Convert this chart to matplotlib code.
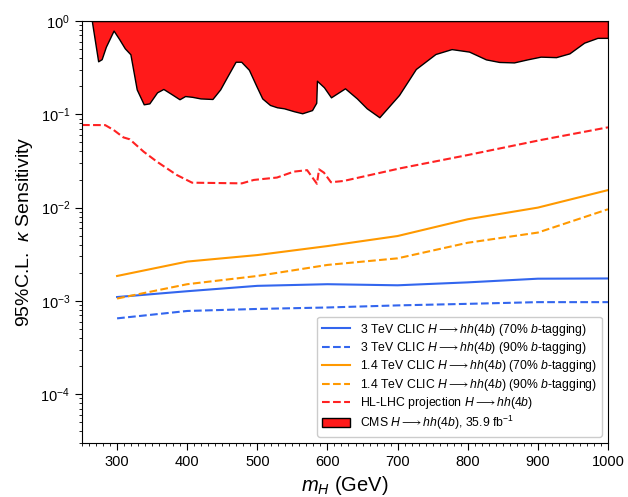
import matplotlib
matplotlib.use('Agg')
import matplotlib.pyplot as plt
import numpy as np
from matplotlib.ticker import MultipleLocator, LogLocator, NullFormatter

plt.rcParams['font.family'] = ['Liberation Sans', 'DejaVu Sans']
plt.rcParams['mathtext.fontset'] = 'custom'
plt.rcParams['mathtext.rm'] = 'Liberation Sans'
plt.rcParams['mathtext.it'] = 'Liberation Sans:italic'

# CLIC projections (mH in GeV)
mh_clic = [300, 400, 500, 600, 700, 800, 900, 1000]
clic3_70 = [1.10e-3, 1.27e-3, 1.45e-3, 1.51e-3, 1.47e-3, 1.58e-3, 1.73e-3, 1.74e-3]
clic3_90 = [6.5e-4, 7.8e-4, 8.2e-4, 8.5e-4, 8.95e-4, 9.3e-4, 9.7e-4, 9.7e-4]
clic14_70 = [1.85e-3, 2.64e-3, 3.1e-3, 3.87e-3, 4.96e-3, 7.5e-3, 1.0e-2, 1.54e-2]
clic14_90 = [1.06e-3, 1.51e-3, 1.85e-3, 2.43e-3, 2.86e-3, 4.2e-3, 5.4e-3, 9.6e-3]

# HL-LHC projection
mh_hllhc = [250, 283, 295, 309, 318, 338, 357, 385, 407, 478, 495, 528, 552, 571,
            585, 588, 595, 605, 623, 704, 800, 904, 1000]
hllhc = [0.0768, 0.0766, 0.068, 0.0566, 0.054, 0.0397, 0.031, 0.0224, 0.0185, 0.0182,
         0.0198, 0.021, 0.0243, 0.0252, 0.018, 0.0257, 0.0237, 0.0187, 0.0193, 0.0264,
         0.0366, 0.053, 0.0725]

# CMS 35.9 fb-1 exclusion
mh_cms = [264, 273, 278, 284, 295, 303, 311, 319, 328, 338, 346, 357, 366, 378, 389,
          397, 407, 419, 436, 447, 457, 469, 477, 488, 499, 507, 518, 528, 538, 552,
          564, 578, 584, 585, 595, 605, 625, 642, 656, 674, 702, 726, 754, 777, 802,
          826, 845, 866, 885, 904, 926, 945, 966, 985, 1000]
cms = [1.0, 0.37, 0.39, 0.53, 0.79, 0.64, 0.51, 0.44, 0.185, 0.128, 0.131, 0.172, 0.187,
       0.164, 0.145, 0.157, 0.154, 0.148, 0.146, 0.185, 0.253, 0.366, 0.366, 0.30, 0.198,
       0.148, 0.126, 0.119, 0.116, 0.108, 0.1026, 0.111, 0.133, 0.229, 0.195, 0.152,
       0.19, 0.148, 0.116, 0.093, 0.161, 0.306, 0.443, 0.50, 0.47, 0.388, 0.364, 0.36,
       0.388, 0.415, 0.41, 0.45, 0.586, 0.66, 0.66]

blue = '#3366ee'
orange = '#ff9900'
red = '#ff2222'

fig = plt.figure(figsize=(6.28, 4.97), dpi=100)
ax = fig.add_axes([0.1306, 0.1087, 0.8375, 0.849])

ax.plot(mh_clic, clic3_70, color=blue, lw=1.5,
        label=r'3 TeV CLIC $H \longrightarrow hh$(4$b$) (70% $b$-tagging)')
ax.plot(mh_clic, clic3_90, color=blue, lw=1.5, ls='--',
        label=r'3 TeV CLIC $H \longrightarrow hh$(4$b$) (90% $b$-tagging)')
ax.plot(mh_clic, clic14_70, color=orange, lw=1.5,
        label=r'1.4 TeV CLIC $H \longrightarrow hh$(4$b$) (70% $b$-tagging)')
ax.plot(mh_clic, clic14_90, color=orange, lw=1.5, ls='--',
        label=r'1.4 TeV CLIC $H \longrightarrow hh$(4$b$) (90% $b$-tagging)')
ax.plot(mh_hllhc, hllhc, color=red, lw=1.5, ls='--',
        label=r'HL-LHC projection $H \longrightarrow hh$(4$b$)')
ax.fill_between(mh_cms, cms, 1, facecolor='#ff1a1a', edgecolor='black', lw=1,
                label=r'CMS $H \longrightarrow hh$(4$b$), 35.9 fb$^{-1}$')

ax.set_yscale('log')
ax.set_xlim(250, 1000)
ax.set_ylim(3e-5, 1)
ax.xaxis.set_major_locator(MultipleLocator(100))
ax.xaxis.set_minor_locator(MultipleLocator(10))
ax.yaxis.set_major_locator(LogLocator(base=10, numticks=10))
ax.yaxis.set_minor_locator(LogLocator(base=10, subs=np.arange(2, 10), numticks=10))
ax.yaxis.set_minor_formatter(NullFormatter())
ax.tick_params(which='major', labelsize=10.5, length=5, direction='out')
ax.tick_params(which='minor', length=2.5, direction='out')

ax.set_xlabel(r'$m_H$ (GeV)', fontsize=14.5)
ax.set_ylabel(r'95%C.L.  $\kappa$ Sensitivity', fontsize=14)

ax.legend(loc='lower right', fontsize=8.8, handlelength=2.3, labelspacing=0.2,
          framealpha=1)

fig.savefig('out.png', dpi=100)
